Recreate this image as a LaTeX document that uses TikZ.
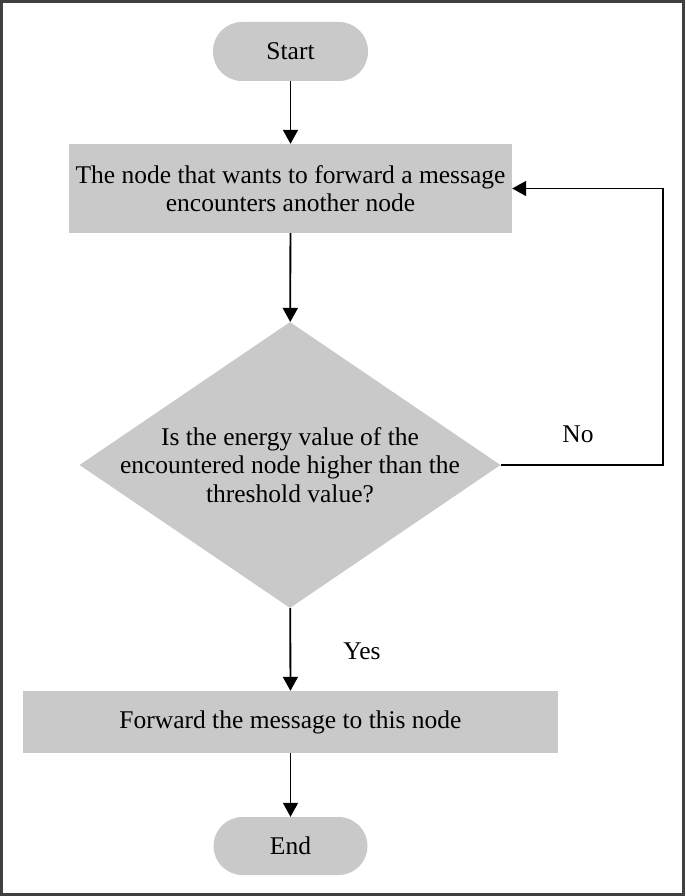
\documentclass[tikz,border=0pt]{standalone}
\usepackage{fontspec}
\setmainfont{Liberation Serif}
\usetikzlibrary{shapes.geometric,arrows.meta}
\begin{document}
\begin{tikzpicture}[x=1pt,y=-1pt]
		\tikzset{term/.style = {shape=rectangle,rounded corners=29pt,fill=black!21,inner sep=0pt,minimum width=155pt,minimum height=59pt}}
		\tikzset{proc/.style = {shape=rectangle,fill=black!21,inner sep=0pt,align=center}}
		\tikzset{decision/.style = {shape=diamond,fill=black!21,inner xsep=-25pt,inner ysep=-10pt,aspect=1.47,minimum width=421pt,minimum height=286pt,align=center}}
		\tikzset{flow/.style = {-{Triangle[length=14pt,width=15pt]},line width=1.8pt}}
		\tikzset{every node/.style = {font=\fontsize{25.5}{28.5}\selectfont}}
		\useasboundingbox (0,0) rectangle (685,896);
		\draw[line width=2.5pt,black!75] (1.5,1.5) rectangle (683.5,894.5);
		\node[term] (start) at (290.5,51.5) {Start};
		\node[proc,minimum width=443pt,minimum height=89pt] (enc) at (290.5,188.5) {The node that wants to forward a message\\encounters another node};
		\node[decision] (check) at (290,465) {Is the energy value of the\\encountered node higher than the\\threshold value?};
		\node[proc,minimum width=535pt,minimum height=62pt] (fwd) at (290.5,722) {Forward the message to this node};
		\node[term,minimum width=154pt,minimum height=58pt] (end) at (290.5,846) {End};
		\coordinate (loop) at (663,465);
		\draw[flow] (start) -- (enc);
		\draw[flow] (enc) -- (check);
		\draw[flow] (check) -- (fwd);
		\draw[flow] (fwd) -- (end);
		\draw[flow] (check.east) -- (loop) |- (enc.east);
		\node (no) at (578,434) {No};
		\node (yes) at (362,651) {Yes};
	\end{tikzpicture}
\end{document}
